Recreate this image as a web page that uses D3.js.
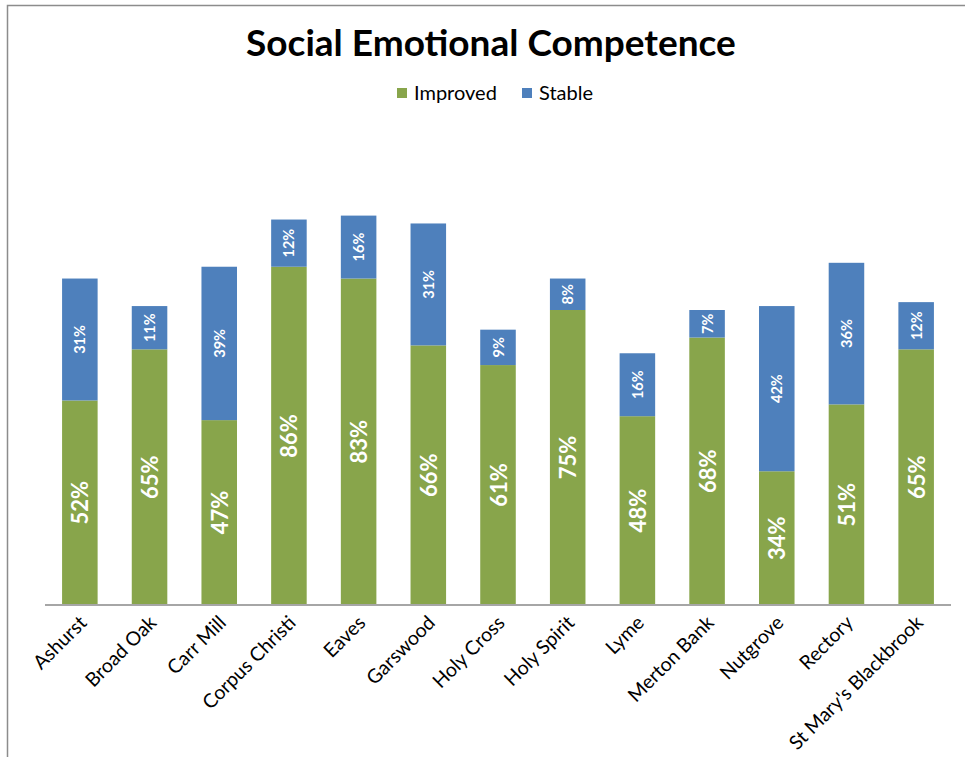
<!DOCTYPE html>
<html>
<head>
<meta charset="utf-8">
<script src="https://cdn.jsdelivr.net/npm/d3@7"></script>
<style>
html,body{margin:0;padding:0;background:#fff;overflow:hidden;}
svg{display:block;}
</style>
</head>
<body>
<svg id="chart" width="965" height="757"></svg>
<script>
const categories = ["Ashurst","Broad Oak","Carr Mill","Corpus Christi","Eaves","Garswood","Holy Cross","Holy Spirit","Lyme","Merton Bank","Nutgrove","Rectory","St Mary's Blackbrook"];
const improved = [52,65,47,86,83,66,61,75,48,68,34,51,65];
const stable = [31,11,39,12,16,31,9,8,16,7,42,36,12];
const seriesNames = ["Improved","Stable"];
const colors = ["#88A54B","#4E80BC"];

const font = "Lato, 'Open Sans', sans-serif";
const svg = d3.select("#chart");

// frame
svg.append("rect").attr("x",7.5).attr("y",5.5).attr("width",970).attr("height",770)
  .attr("fill","none").attr("stroke","#8c8c8c").attr("stroke-width",1.5);

const x = d3.scaleBand().domain(categories).range([45,951]).paddingInner(0.49).paddingOuter(0.245);
const y = d3.scaleLinear().domain([0,120]).range([605,133]);

const data = categories.map((c,i)=>({cat:c, imp:improved[i], sta:stable[i]}));
const stack = d3.stack().keys(["imp","sta"])(data);

const g = svg.append("g");
stack.forEach((layer,li)=>{
  g.selectAll(null).data(layer).enter().append("rect")
    .attr("x",d=>x(d.data.cat))
    .attr("width",x.bandwidth())
    .attr("y",d=>y(d[1]))
    .attr("height",d=>y(d[0])-y(d[1]))
    .attr("fill",colors[li]);
});

// labels
stack.forEach((layer,li)=>{
  g.selectAll(null).data(layer).enter().append("text")
    .attr("transform",d=>`translate(${x(d.data.cat)+x.bandwidth()/2},${(y(d[0])+y(d[1]))/2}) rotate(-90)`)
    .attr("text-anchor","middle").attr("dominant-baseline","central")
    .attr("fill","#fff").attr("font-family",font)
    .attr("font-weight","bold")
    .attr("font-size", li===0 ? 22 : 14.5)
    .text(d=>(d[1]-d[0])+"%");
});

// axis
const xAxis = d3.axisBottom(x).tickSize(0).tickPadding(0);
const ax = svg.append("g").attr("transform","translate(0,605)").call(xAxis);
ax.select(".domain").attr("stroke","#a6a6a6").attr("stroke-width",2).attr("d","M45,0H951");
ax.selectAll(".tick text")
  .attr("font-family",font).attr("font-size",19.5).attr("fill","#000")
  .attr("text-anchor","end").attr("dy",0).attr("y",0)
  .attr("transform","translate(8,19) rotate(-45)");

// title
svg.append("text").attr("x",491).attr("y",56).attr("text-anchor","middle")
  .attr("font-family",font).attr("font-weight","bold").attr("font-size",37)
  .attr("fill","#000").text("Social Emotional Competence");

// legend
const legend = svg.append("g");
const legX = [397,522];
seriesNames.forEach((n,i)=>{
  legend.append("rect").attr("x",legX[i]).attr("y",88).attr("width",10).attr("height",10).attr("fill",colors[i]);
  legend.append("text").attr("x",legX[i]+17).attr("y",100).attr("font-family",font)
    .attr("font-size",20).attr("fill","#000").text(n);
});
</script>
</body>
</html>
